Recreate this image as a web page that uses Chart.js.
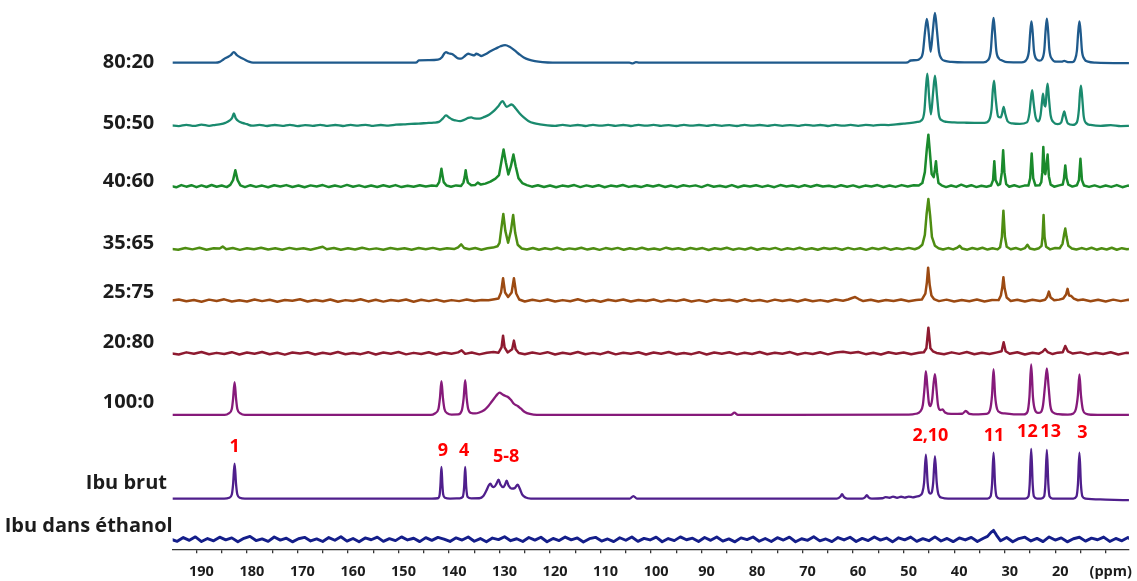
<!DOCTYPE html>
<html>
<head>
<meta charset="utf-8">
<script src="https://cdn.jsdelivr.net/npm/chart.js@4.4.1/dist/chart.umd.min.js"></script>
<style>
  html, body { margin: 0; padding: 0; background: #fff; }
  #wrap { width: 1137px; height: 581px; }
</style>
</head>
<body>
<div id="wrap"><canvas id="nmrChart" width="1137" height="581"></canvas></div>
<script>
// Noms des échantillons (de haut en bas) et couleurs des traces
const sampleNames = ['80:20', '50:50', '40:60', '35:65', '25:75', '20:80', '100:0', 'Ibu brut', 'Ibu dans éthanol'];
const traceColors = ['#1f5a8c', '#1a8a6e', '#1a8a2c', '#4e8d12', '#9c4a12', '#8e1a30', '#861a7a', '#4f1f8c', '#141e8a'];
// Décalage vertical de chaque spectre dans l'empilement
const stackOffsets = [489, 426, 365, 302, 250, 197, 135, 51, 10];
// Spectres bruités : tracé en segments droits
const noisyTrace = [false, false, true, true, true, true, false, false, true];
const traceWidths = [2.3, 2.3, 2.5, 2.5, 2.5, 2.5, 2.3, 2.3, 2.9];

// Attribution des carbones (texte rouge) et leur déplacement chimique (ppm)
const peakNumbers = ['1', '9', '4', '5-8', '2,10', '11', '12', '13', '3'];
const peakNumberPpm = [182.45, 141.2, 137.0, 128.7, 44.7, 32.1, 25.5, 20.9, 14.6];

// Spectres : [ppm, intensité]
const spec8020 = [
  [195,0],[186.2,0],[185.4,0.8],[184.6,3.5],[184.0,5.2],[183.2,7.5],[182.6,10.7],[182.0,7.5],[181.2,5],[180.4,3],[179.6,1],[178.8,0],
  [147,0],[146.4,0.3],[146,2.3],[144,2.5],[142.2,3],[141.4,5.5],[140.9,9.5],[140.6,10.7],[140.1,9.5],[139.4,8.7],[138.8,6.5],[138.2,4.3],[137.6,4],
  [136.9,6.5],[136.2,9],[135.6,8],[135,7.3],[134.6,9],[134.1,8],[133.6,6.7],[132.8,8.5],[131.8,11.5],[130.8,14],[129.8,16.5],[128.9,17.7],[128,16],
  [127,12.3],[126.1,8.5],[125.2,5.2],[124.2,3],[123,1.5],[121.5,0.5],[119.5,0],[104.3,0],[103.6,-0.7],[103,0.6],[102.3,0],
  [50,0],[49.2,0.4],[48.6,2.2],[47.5,2.6],[46.8,4],[46.2,10],[45.75,32],[45.4,44],[45.0,28],[44.65,11],[44.2,33],[43.8,50],[43.4,32],[43.0,11],
  [42.5,4],[41.8,1.8],[40.5,0.8],[38,0.3],[34.2,0.3],[33.3,2.5],[32.75,12],[32.45,33],[32.2,45],[31.95,32],[31.65,12],[31.1,4],[30.5,2.2],[29.5,0.5],
  [26.6,0.3],[25.7,3],[25.2,12],[24.95,30],[24.7,41.6],[24.45,30],[24.2,12],[23.7,3.5],[23.1,2],[22.6,3.5],[22.15,13],[21.9,32],[21.65,44.3],
  [21.4,32],[21.15,13],[20.6,3.5],[19.8,1],[18.7,1],[18.2,1.8],[17.5,0.6],[16.6,0.5],[16.1,3],[15.7,12],[15.45,30],[15.2,41.6],[14.95,30],[14.7,12],
  [14.2,3.5],[13.5,1],[12,0],[5,-0.5]
];

const spec5050 = [
  [195,0],[193.5,-0.8],[192,0.6],[190.5,-0.5],[189,0.7],[187.5,-0.4],[186.2,0.6],[185.2,1.2],[184.3,2.5],[183.4,5],[182.9,8],[182.6,12],[182.2,7],
  [181.6,4],[180.9,2.5],[180,1.2],[179,-0.3],[177.5,0.5],[176,-0.6],[174.5,0.4],[173,-0.5],[171.5,0.6],[170,-0.7],[168.5,0.3],[167,-0.4],[165.5,0.6],
  [164,-0.5],[162.5,0.4],[161,-0.6],[159.5,0.5],[158,-0.3],[156.5,0.6],[155,-0.5],[153.5,0.4],[152,-0.2],[150.5,0.7],[149,1],[147.5,1.5],[146,1.8],
  [144.5,2.3],[143,2.8],[142,3.5],[141.2,7],[140.6,10],[140,8],[139.4,6],[138.7,5],[137.8,4.3],[137,5.5],[136.2,7.5],[135.6,8],[135,7],[134,6.7],
  [133,8.5],[132,11],[131,15],[130.2,19.5],[129.4,24.3],[128.6,18.7],[127.6,21],[126.8,17],[126,12],[125.2,8],[124.3,4.5],[123.2,2.2],[122,1],
  [120.5,0],[119,-0.5],[117.5,0.5],[116,-0.4],[114.5,0.4],[113,-0.6],[111.5,0.5],[110,-0.3],[108.5,0.5],[107,-0.5],[105.5,0.4],[104,-0.6],[102.5,0.5],
  [101,-0.3],[99.5,0.5],[98,-0.5],[96.5,0.3],[95,-0.6],[93.5,0.5],[92,-0.3],[90.5,0.4],[89,-0.5],[87.5,0.5],[86,-0.4],[84.5,0.3],[83,-0.6],[81.5,0.5],
  [80,-0.3],[78.5,0.4],[77,-0.5],[75.5,0.5],[74,-0.4],[72.5,0.3],[71,-0.5],[69.5,0.6],[68,-0.3],[66.5,0.4],[65,-0.6],[63.5,0.5],[62,-0.3],[60.5,0.5],
  [59,-0.4],[57.5,0.5],[56,-0.2],[54.5,0.6],[53,0.3],[51.5,1],[50,1.8],[48.5,2.5],[47.3,3.5],[46.5,5],[45.9,14],[45.55,40],[45.3,52],[44.95,28],
  [44.6,11],[44.15,34],[43.8,50],[43.4,30],[43,10],[42.4,5],[41.5,3.5],[40,3],[38,2.7],[36,2.5],[34,2.5],[33.1,5],[32.6,16],[32.35,35],[32.1,45],
  [31.8,28],[31.3,9],[30.8,8],[30.5,12],[30.2,18.7],[29.9,12],[29.4,4],[28.5,2],[27,1.5],[25.6,3],[25.1,12],[24.8,27],[24.55,35.3],[24.3,24],
  [23.9,9],[23.3,4],[22.9,10],[22.6,24],[22.4,32],[22.1,20],[21.9,19],[21.7,34],[21.5,42],[21.25,28],[20.9,10],[20.3,3],[19.5,1.2],[18.8,3],
  [18.45,10],[18.2,14],[17.95,9],[17.5,2],[16.5,0.5],[15.7,3],[15.3,16],[15.1,32],[14.9,40],[14.65,28],[14.35,9],[13.8,2],[13,0.5],[11,-0.5],
  [9,0.3],[7,-0.7],[5,-0.5]
];

const spec4060 = [
  [195,0],[194,-1.2],[193,1],[192,-0.6],[191,0.9],[190,-1.1],[189,0.7],[188,-0.9],[187,1.1],[186,-0.7],[185,0.6],[184,-1],[183.3,1.2],[182.75,6],
  [182.3,16],[181.85,6],[181.3,0.8],[180.4,-1],[179.3,0.9],[178.2,-0.8],[177,0.5],[175.8,-1.2],[174.6,0.8],[173.4,-0.5],[172.2,1],[171,-0.9],
  [169.8,0.6],[168.6,-1.1],[167.4,0.7],[166.2,-0.4],[165,1],[163.8,-1],[162.6,0.5],[161.4,-0.8],[160.2,1.2],[159,-0.6],[157.8,0.7],[156.6,-1],
  [155.4,0.5],[154.2,-0.9],[153,0.8],[151.8,-0.6],[150.6,1],[149.4,-1],[148.2,0.4],[147,-0.7],[145.8,0.9],[144.6,-0.5],[143.4,0.6],[142.4,0.2],
  [141.95,4],[141.7,11],[141.5,17.4],[141.3,11],[141.05,4],[140.5,0.5],[139.6,-0.6],[138.6,0.7],[137.6,0.2],[137.15,3.5],[136.9,9],[136.7,16],
  [136.5,9],[136.25,3.5],[135.6,0.8],[134.8,1.2],[134.3,3.5],[133.7,1.5],[132.8,2.5],[131.8,4.5],[130.8,7.5],[130.1,11],[129.65,24],[129.2,36.7],
  [128.75,24],[128.25,11.7],[127.75,20],[127.25,31.7],[126.8,20],[126.25,8],[125.5,3],[124.6,1],[123.6,-0.6],[122.4,0.8],[121.2,-0.9],[120,0.6],
  [118.8,-1.1],[117.6,0.5],[116.4,-0.4],[115.2,1],[114,-1],[112.8,0.7],[111.6,-0.6],[110.4,0.9],[109.2,-1.2],[108,0.5],[106.8,-0.5],[105.6,1.1],
  [104.4,-0.8],[103.2,0.4],[102,-1],[100.8,0.8],[99.6,-0.4],[98.4,1],[97.2,-0.9],[96,0.5],[94.8,-1.1],[93.6,0.9],[92.4,-0.3],[91.2,0.7],[90,-1],
  [88.8,1.2],[87.6,-0.6],[86.4,0.4],[85.2,-0.9],[84,1],[82.8,-1.2],[81.6,0.6],[80.4,-0.5],[79.2,0.9],[78,-0.8],[76.8,0.5],[75.6,-1.1],[74.4,1],
  [73.2,-0.4],[72,0.6],[70.8,-1],[69.6,0.8],[68.4,-0.7],[67.2,1.1],[66,-0.5],[64.8,0.4],[63.6,-1],[62.4,0.9],[61.2,-0.6],[60,0.7],[58.8,-1.1],
  [57.6,0.5],[56.4,-0.4],[55.2,1],[54,-0.9],[52.8,0.6],[51.6,-0.8],[50.4,1],[49.2,-0.5],[48,0.8],[47,0.5],[46.3,3],[45.8,14],[45.4,38],[45.1,51.7],
  [44.8,34],[44.45,12],[44.05,9],[43.8,17],[43.6,25],[43.4,14],[43.1,3],[42.5,0.8],[41.6,-1],[40.6,0.6],[39.6,-0.8],[38.6,1.4],[37.6,-0.6],
  [36.6,0.9],[35.6,-1],[34.6,0.4],[33.6,-0.7],[32.7,0.6],[32.3,6],[32.05,25],[31.8,6],[31.3,1],[30.9,2],[30.55,14],[30.3,36],[30.05,14],[29.7,2],
  [29.1,-0.6],[28.1,0.8],[27.1,-0.8],[26.1,0.5],[25.3,0.5],[24.95,8],[24.65,32.7],[24.35,8],[23.9,0.5],[23.1,0.8],[22.75,4],[22.55,14],[22.35,39.4],
  [22.1,14],[21.95,12],[21.75,20],[21.5,31.7],[21.25,10],[20.9,1.5],[20.2,-0.6],[19.2,0.7],[18.5,1.5],[18.25,8],[18.0,20.7],[17.75,8],[17.4,1.5],
  [16.6,-0.5],[15.7,0.8],[15.3,6],[15.0,27.4],[14.7,6],[14.3,0.6],[13.3,-0.8],[12.2,0.7],[11.1,-1],[10,0.6],[8.9,-0.8],[7.8,1],[6.7,-1.1],[5.6,0.5],[5,0]
];

const spec3565 = [
  [195,0],[193.6,-1],[192.2,0.8],[190.8,-0.6],[189.4,1],[188,-0.9],[186.6,0.5],[185.4,0.3],[184.8,2.2],[184.1,-0.5],[182.8,0.7],[181.4,-1.1],
  [180,0.6],[178.6,-0.5],[177.2,1],[175.8,-0.8],[174.4,0.5],[173,-1],[171.6,0.9],[170.2,-0.4],[168.8,0.6],[167.4,-0.9],[166,0.7],[165,2],[164.2,-0.5],
  [162.8,0.8],[161.4,-1],[160,0.5],[158.6,-0.7],[157.2,1],[155.8,-0.6],[154.4,0.4],[153,-1],[151.6,0.8],[150.2,-0.5],[148.8,0.6],[147.4,-0.9],
  [146,0.7],[144.6,-0.4],[143.2,0.9],[141.8,-0.8],[140.4,0.6],[139,-0.3],[138.2,1.5],[137.6,4.5],[137,0.8],[136,-0.5],[134.8,0.7],[133.6,-0.9],
  [132.4,0.5],[131.3,1.2],[130.4,2.5],[130,6],[129.65,20],[129.25,35],[128.85,18],[128.3,6],[127.75,18],[127.3,34],[126.9,16],[126.4,4],[125.6,0.3],
  [124.6,-0.8],[123.4,0.8],[122.2,-1],[121,0.5],[119.8,-0.6],[118.6,1],[117.4,-0.9],[116.2,0.4],[115,-0.5],[113.8,1.1],[112.6,-0.8],[111.4,0.6],
  [110.2,-1.1],[109,0.7],[107.8,-0.4],[106.6,0.9],[105.4,-1],[104.2,0.5],[103,-0.6],[101.8,1],[100.6,-0.8],[99.4,0.3],[98.2,-0.9],[97,1.1],
  [95.8,-0.5],[94.6,0.6],[93.4,-1],[92.2,0.8],[91,-0.4],[89.8,0.7],[88.6,-1.2],[87.4,0.5],[86.2,-0.5],[85,1],[83.8,-0.9],[82.6,0.4],[81.4,-0.7],
  [80.2,1],[79,-1],[77.8,0.6],[76.6,-0.4],[75.4,0.9],[74.2,-1.1],[73,0.5],[71.8,-0.6],[70.6,1.1],[69.4,-0.8],[68.2,0.5],[67,-1],[65.8,0.8],
  [64.6,-0.3],[63.4,0.7],[62.2,-1],[61,0.9],[59.8,-0.6],[58.6,0.5],[57.4,-1.1],[56.2,0.8],[55,-0.4],[53.8,1],[52.6,-0.9],[51.4,0.6],[50.2,-0.6],
  [49,0.9],[47.8,-0.5],[47,1],[46.3,4],[45.8,14],[45.45,35],[45.1,50],[44.75,33],[44.4,12],[43.8,3],[43.1,0.5],[42.2,-0.8],[41.2,0.7],[40.2,-0.6],
  [39.4,1],[38.9,3],[38.4,0.2],[37.4,-0.9],[36.4,0.8],[35.4,-0.5],[34.4,1],[33.4,-0.8],[32.4,0.5],[31.4,-0.6],[30.9,1.5],[30.55,12],[30.25,38.3],
  [29.95,12],[29.6,2],[28.8,-0.5],[27.8,0.8],[26.8,-0.9],[26,0.6],[25.5,4],[25,0.3],[24.1,-0.7],[23.2,0.6],[22.7,3],[22.5,12],[22.3,34],[22.1,12],
  [21.8,2],[21,-0.6],[20,0.8],[19.1,0.5],[18.55,5],[18.25,14],[18,20.3],[17.75,12],[17.4,3],[16.7,0.3],[15.8,-0.8],[14.8,0.7],[13.8,-0.6],[12.8,1],
  [11.8,-0.9],[10.8,0.5],[9.8,-0.7],[8.8,1],[7.8,-1],[6.8,0.6],[5.8,-0.5],[5,0]
];

const spec2575 = [
  [195,0],[193.5,1],[192,-0.8],[190.5,0.5],[189,-1.2],[187.5,0.9],[186,-0.4],[184.5,1.2],[183,-1],[181.5,0.3],[180,-0.9],[178.5,1.1],[177,-0.6],
  [175.5,0.8],[174,-1.2],[172.5,0.5],[171,-0.3],[169.5,1.3],[168,-1],[166.5,0.6],[165,-0.8],[163.5,1],[162,-1.3],[160.5,0.4],[159,-0.5],[157.5,1.2],
  [156,-0.9],[154.5,0.7],[153,-1.1],[151.5,0.5],[150,-0.4],[148.5,1],[147,-1.2],[145.5,0.8],[144,-0.6],[142.5,0.9],[141,-1],[139.5,0.4],[138,-0.6],
  [136.5,1],[135,-0.4],[133.5,0.6],[132.2,0.2],[131,1.3],[130.2,2],[129.7,8],[129.3,22.4],[128.9,8],[128.3,3.5],[127.6,8],[127.15,22.4],[126.7,7],
  [126.1,1],[125,-1],[123.5,0.7],[122,-0.6],[120.5,1.1],[119,-1],[117.5,0.4],[116,-0.7],[114.5,1.2],[113,-0.9],[111.5,0.5],[110,-1.2],[108.5,0.8],
  [107,-0.4],[105.5,1],[104,-1],[102.5,0.6],[101,-0.5],[99.5,1.1],[98,-1.1],[96.5,0.5],[95,-0.6],[93.5,1],[92,-0.9],[90.5,0.4],[89,-1.2],[87.5,0.9],
  [86,-0.3],[84.5,0.8],[83,-1],[81.5,1.2],[80,-0.6],[78.5,0.5],[77,-1.1],[75.5,0.9],[74,-0.4],[72.5,0.7],[71,-1],[69.5,1.1],[68,-0.7],[66.5,0.4],
  [65,-0.9],[63.5,1],[62,-0.2],[61,1],[60.2,2.5],[59.6,3.5],[58.9,1.5],[58,-0.5],[56.5,0.8],[55,-1],[53.5,0.6],[52,-0.5],[50.5,1.1],[49,-0.8],
  [47.5,0.6],[46.4,1],[45.7,7],[45.4,18],[45.15,33],[44.85,16],[44.5,5],[44,1.5],[43,-0.6],[41.5,0.9],[40,-1],[38.5,0.5],[37,-0.7],[35.5,1],
  [34,-0.9],[32.5,0.6],[31.2,0.4],[30.75,5],[30.45,14],[30.25,23.4],[30.0,12],[29.6,3],[28.8,-0.4],[27.5,0.8],[26,-1],[24.5,0.7],[23,-0.5],[22,0.8],
  [21.6,3.5],[21.25,9],[20.9,3],[20.2,0.2],[19.2,0.9],[18.4,2],[17.85,6],[17.55,11.7],[17.25,5],[16.8,4.5],[16.3,2],[15.5,0.3],[14.5,1],[13,-0.8],
  [11.5,0.7],[10,-1],[8.5,0.9],[7,-0.6],[5.5,0.8],[5,0]
];

const spec2080 = [
  [195,0],[193.5,-1.2],[192,0.9],[190.5,-0.5],[189,1.3],[187.5,-1],[186,0.4],[184.5,-0.8],[183,1.1],[181.5,-1.3],[180,0.7],[178.5,-0.4],[177,1.2],
  [175.5,-1],[174,0.5],[172.5,-1.4],[171,0.8],[169.5,-0.3],[168,1],[166.5,-1.2],[165,0.6],[163.5,-0.7],[162,1.3],[160.5,-1],[159,0.3],[157.5,-0.9],
  [156,1.1],[154.5,-1.3],[153,0.7],[151.5,-0.5],[150,1.2],[148.5,-1.1],[147,0.4],[145.5,-0.8],[144,1],[142.5,-1.2],[141,0.8],[139.5,-0.4],[138.2,0.9],
  [137.5,3],[136.8,-0.6],[135.5,0.7],[134,-1.1],[132.5,0.5],[131.2,1.2],[130.2,0.5],[129.6,6],[129.3,17.7],[129,6],[128.4,0.8],[127.5,4],[127.15,12.7],
  [126.8,4],[126.2,0.2],[125,-1],[123.5,0.8],[122,-0.6],[120.5,1.1],[119,-1.2],[117.5,0.5],[116,-0.8],[114.5,1.2],[113,-1],[111.5,0.4],[110,-0.9],
  [108.5,1.3],[107,-1.1],[105.5,0.6],[104,-0.4],[102.5,1],[101,-1.3],[99.5,0.7],[98,-0.5],[96.5,1.2],[95,-1],[93.5,0.3],[92,-0.9],[90.5,1.1],[89,-1.2],
  [87.5,0.8],[86,-0.4],[84.5,1],[83,-1.1],[81.5,0.5],[80,-0.7],[78.5,1.3],[77,-1],[75.5,0.6],[74,-0.5],[72.5,1.2],[71,-1.2],[69.5,0.4],[68,-0.8],
  [66.5,1],[65,-1.1],[63.5,0.7],[62,1.5],[60.5,0.2],[59,1.2],[57.5,-0.9],[56,0.6],[54.5,-1.2],[53,1],[51.5,-0.5],[50,0.8],[48.5,-1],[47,0.6],[46,1],
  [45.5,5],[45.1,25.7],[44.7,5],[44.2,2],[43.5,0.3],[42,-1],[40.5,0.9],[39,-0.6],[37.5,1.2],[36,-1],[34.5,0.5],[33,-0.8],[31.5,0.9],[30.6,2],[30.2,11],
  [29.8,2],[29,-0.5],[27.5,1],[26,-1.2],[24.5,0.6],[23.2,-0.4],[22.5,1.5],[22,4.3],[21.5,1.2],[20.5,-0.8],[19.5,0.6],[18.5,1],[18,7.3],[17.5,2],
  [16.5,-0.3],[15,0.9],[13.5,-1.1],[12,0.5],[10.5,-0.8],[9,1],[7.5,-1.2],[6,0.4],[5,0]
];

const spec1000 = [
  [195,0],[184.4,0],[183.6,1.5],[183,6],[182.75,16],[182.45,33],[182.15,16],[181.9,6],[181.3,1.5],[180.4,0],[143.6,0],[142.8,1.5],[142.1,6],
  [141.8,17],[141.5,34],[141.2,17],[140.9,6],[140.3,1.5],[139.5,0.4],[138.2,0.5],[137.5,4],[137.1,17],[136.8,35],[136.5,17],[136.2,6],[135.6,2],
  [134.8,1.5],[134,2.5],[133,5],[132.2,9],[131.6,13],[131,17],[130.4,21],[130,22.4],[129.4,20.5],[128.8,19],[128.4,18.4],[127.8,15.5],[127.1,11],
  [126.4,9],[125.8,6.5],[125,3],[124,1],[122.6,0],[84.2,0],[83.5,2.3],[82.8,0],[49,0.3],[47.6,1.2],[46.7,3.5],[46.2,10],[45.85,28],[45.6,44],
  [45.3,28],[45.0,12],[44.7,9],[44.35,16],[44.1,30],[43.8,41],[43.5,26],[43.2,10],[42.75,5],[42.3,5.5],[41.8,2.5],[40.6,1],[38.4,1.2],[37.7,4],
  [37,1.2],[35.2,0.6],[33.6,1],[32.9,5],[32.5,20],[32.2,46],[31.9,20],[31.5,6],[30.9,2.5],[30,1.5],[28.2,0.6],[26.2,0.5],[25.5,3],[25.1,18],
  [24.75,50.7],[24.4,18],[24,5],[23.4,2],[22.8,3],[22.4,10],[22.0,30],[21.65,46.7],[21.3,28],[20.95,9],[20.4,2.5],[19.4,0.8],[17.5,0.3],[16.4,1.5],
  [15.9,6],[15.5,20],[15.2,40.7],[14.9,20],[14.5,5],[13.9,1.2],[12.8,0.2],[10,0],[5,0]
];

const specBrut = [
  [195,0],[184.5,0],[183.5,0.8],[183,4],[182.75,14],[182.45,35],[182.15,14],[181.9,4],[181.4,0.8],[180.4,0],[143.4,0],[142.2,0.3],[141.85,4],
  [141.7,13],[141.5,31.7],[141.3,13],[141.15,4],[140.8,0.8],[139.8,0],[137.9,0.2],[137.3,1.5],[137.0,12],[136.8,31.7],[136.6,12],[136.3,1.5],
  [135.6,0.2],[134,0.3],[133.2,2.5],[132.6,8],[132.1,13.5],[131.8,15],[131.5,12.5],[131.1,11.5],[130.6,15],[130.2,19],[129.8,14],[129.3,11.5],
  [128.9,14],[128.6,18],[128.2,13],[127.6,10],[127.0,10.5],[126.4,14],[126,10],[125.5,4],[124.8,1],[123.8,0],[104.2,0],[103.5,2.5],[102.8,0],
  [63.2,0],[62.5,2],[62.2,4.5],[61.8,1.5],[61.2,0],[58.2,0],[57.6,1.5],[57.3,3.5],[56.9,1],[56.3,0],[54.2,0.3],[53.6,1.5],[52.8,0.8],[52.1,2],
  [51.3,0.8],[50.5,1.8],[49.8,1],[49,2],[48.2,1.2],[47.5,2],[46.8,3],[46.3,6],[45.95,16],[45.6,44],[45.25,16],[44.95,6],[44.7,5],[44.45,6],[44.15,16],
  [43.8,42.7],[43.45,16],[43.1,4],[42.4,0.8],[41.2,0],[33.4,0],[32.8,2],[32.5,14],[32.2,46],[31.9,14],[31.6,2],[31,0],[25.9,0],[25.3,2],[25.05,14],
  [24.75,50],[24.45,14],[24.2,2],[23.6,0],[22.8,0],[22.2,2],[21.95,14],[21.65,49],[21.35,14],[21.1,2],[20.5,0],[16.4,0],[15.8,2],[15.5,14],
  [15.2,46],[14.9,14],[14.6,2],[14,0],[10,-1],[5,-1.7]
];

const specEthanol = [
  [195,0],[193.8,-2],[192.6,1.8],[191.4,-1],[190.2,2.5],[189,-2.2],[187.8,0.8],[186.6,-1.5],[185.4,2.2],[184.2,-0.5],[183,1.5],[181.8,-2.4],
  [180.6,1],[179.4,3],[178.2,-1.2],[177,0.5],[175.8,-2],[174.6,2.4],[173.4,-0.8],[172.2,1.2],[171,-2.5],[169.8,0.6],[168.6,2],[167.4,-1.6],
  [166.2,0.4],[165,-2.2],[163.8,1.8],[162.6,-0.9],[161.4,2.6],[160.2,-1.8],[159,0.9],[157.8,-2.4],[156.6,1.4],[155.4,-0.4],[154.2,2.2],[153,-2],
  [151.8,0.7],[150.6,-1.3],[149.4,2.5],[148.2,-0.6],[147,1.1],[145.8,-2.3],[144.6,1.7],[143.4,-1],[142.2,2],[141,0.3],[139.8,-2.1],[138.6,1.5],
  [137.4,-0.7],[136.2,2.4],[135,-1.9],[133.8,0.8],[132.6,-2.5],[131.4,1.3],[130.2,-0.3],[129,2.6],[127.8,-1.4],[126.6,0.6],[125.4,-2.2],[124.2,1.9],
  [123,-0.8],[121.8,2.1],[120.6,-2.4],[119.4,0.9],[118.2,-1.2],[117,2.3],[115.8,-0.5],[114.6,1.4],[113.4,-2.6],[112.2,0.7],[111,2],[109.8,-1.7],
  [108.6,0.4],[107.4,-2.3],[106.2,1.6],[105,-0.9],[103.8,2.4],[102.6,-2],[101.4,1],[100.2,-0.6],[99,2.2],[97.8,-2.4],[96.6,0.8],[95.4,-1.3],
  [94.2,2.5],[93,-0.4],[91.8,1.2],[90.6,-2.2],[89.4,1.9],[88.2,-1],[87,2.3],[85.8,-1.8],[84.6,0.5],[83.4,-2.5],[82.2,1.5],[81,-0.2],[79.8,2.4],
  [78.6,-1.9],[77.4,0.9],[76.2,-2.1],[75,1.7],[73.8,-0.7],[72.6,2.2],[71.4,-2.4],[70.2,0.6],[69,-1],[67.8,2.6],[66.6,-1.5],[65.4,0.4],[64.2,-2.3],
  [63,1.8],[61.8,-0.6],[60.6,2.1],[59.4,-2.2],[58.2,1],[57,-1.2],[55.8,2.4],[54.6,-0.8],[53.4,1.3],[52.2,-2.5],[51,1.6],[49.8,-0.5],[48.6,2.3],
  [47.4,-2],[46.2,0.7],[45,-1.4],[43.8,2.5],[42.6,-1.7],[41.4,0.9],[40.2,-2.3],[39,1.4],[37.8,-0.6],[36.6,2],[35.4,-2.2],[34.2,1.1],[33.4,3],
  [32.7,7],[32.2,9],[31.6,4],[30.8,-1.5],[29.6,1.8],[28.4,-2.4],[27.2,0.8],[26,2.2],[24.8,-1.6],[23.6,1],[22.4,-2.3],[21.2,2.4],[20,-0.7],
  [18.8,1.5],[17.6,-2.5],[16.4,0.6],[15.2,2.1],[14,-1.8],[12.8,1.2],[11.6,-0.4],[10.4,2.3],[9.2,-2.1],[8,0.9],[6.8,-1.5],[5.6,1.8],[5,0]
];

const spectra = [spec8020, spec5050, spec4060, spec3565, spec2575, spec2080, spec1000, specBrut, specEthanol];

// Noms à gauche + numéros des carbones en rouge
const textLayer = {
  id: 'textLayer',
  afterDatasetsDraw(chart, args, opts) {
    const { ctx, chartArea, scales } = chart;
    ctx.save();
    ctx.textBaseline = 'middle';
    ctx.font = 'bold 20px "Open Sans"';
    ctx.fillStyle = opts.nameColor;
    ctx.textAlign = 'right';
    sampleNames.forEach((name, i) => {
      ctx.fillText(name, chartArea.left - opts.nameGaps[i], scales.y.getPixelForValue(opts.nameLevels[i]));
    });
    ctx.font = 'bold 18px "Open Sans"';
    ctx.fillStyle = opts.peakColor;
    ctx.textAlign = 'center';
    peakNumbers.forEach((txt, i) => {
      ctx.fillText(txt, scales.x.getPixelForValue(peakNumberPpm[i]), scales.y.getPixelForValue(opts.peakLevels[i]));
    });
    ctx.restore();
  }
};

const datasets = spectra.map((pts, i) => ({
  label: sampleNames[i],
  data: pts.map(p => ({ x: p[0], y: p[1] + stackOffsets[i] })),
  borderColor: traceColors[i],
  borderWidth: traceWidths[i],
  borderJoinStyle: 'round',
  pointRadius: 0,
  fill: false,
  cubicInterpolationMode: noisyTrace[i] ? 'default' : 'monotone',
  tension: 0
}));

new Chart(document.getElementById('nmrChart'), {
  type: 'line',
  data: { datasets },
  options: {
    responsive: false,
    animation: false,
    devicePixelRatio: 1,
    layout: { padding: { left: 172.7, right: 4, top: 0, bottom: -9.7 } },
    plugins: {
      legend: { display: false },
      tooltip: { enabled: false },
      textLayer: {
        nameColor: '#1c1c1c',
        nameGaps: [18.4, 18.4, 18.4, 18.4, 18.4, 18.4, 18.4, 5.7, 0],
        nameLevels: [489.5, 428, 369.5, 308, 258, 208, 148, 66.5, 23],
        peakColor: '#ff0000',
        peakLevels: [103, 99, 99, 92.5, 113.5, 113.5, 117.5, 117.5, 116.5]
      }
    },
    scales: {
      x: {
        type: 'linear',
        reverse: true,
        min: 5.4,
        max: 194.7,
        border: { display: true, color: '#333', width: 1.3 },
        grid: { drawOnChartArea: false, drawTicks: true, tickLength: 4, color: '#333', lineWidth: 1.3 },
        ticks: {
          stepSize: 5,
          includeBounds: false,
          autoSkip: false,
          maxRotation: 0,
          padding: 10,
          labelOffset: 5,
          color: '#1c1c1c',
          font: { family: 'Open Sans', size: 14.5, weight: 'bold' },
          callback: v => {
            const r = Math.round(v);
            if (r % 10 !== 0) return '';
            return r === 10 ? '(ppm)' : String(r);
          }
        }
      },
      y: { display: false, min: 0, max: 552 }
    }
  },
  plugins: [textLayer]
});
</script>
</body>
</html>
